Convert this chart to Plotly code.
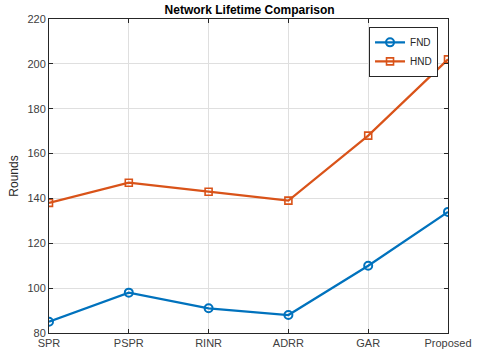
import plotly.graph_objects as go

# Network lifetime per protocol
protocols = ["SPR", "PSPR", "RINR", "ADRR", "GAR", "Proposed"]
fnd = [85, 98, 91, 88, 110, 134]
hnd = [138, 147, 143, 139, 168, 202]
yticks = [80, 100, 120, 140, 160, 180, 200, 220]

xpos = list(range(1, len(protocols) + 1))

fig = go.Figure()
fig.add_trace(go.Scatter(
    x=xpos, y=fnd, name="FND", mode="lines+markers",
    line=dict(color="#0072BD", width=2.2),
    marker=dict(symbol="circle-open", size=8, color="#0072BD", line=dict(width=2)),
))
fig.add_trace(go.Scatter(
    x=xpos, y=hnd, name="HND", mode="lines+markers",
    line=dict(color="#D95319", width=2.2),
    marker=dict(symbol="square-open", size=7, color="#D95319", line=dict(width=1.6)),
))

axis_common = dict(
    showline=True, linecolor="#262626", linewidth=1, mirror="ticks",
    ticks="inside", ticklen=4, tickcolor="#262626",
    showgrid=True, gridcolor="#DFDFDF", gridwidth=1,
    zeroline=False, tickfont=dict(size=11, color="#404040"),
    automargin=False,
)

fig.update_xaxes(
    range=[1, 6], tickvals=xpos, ticktext=protocols, **axis_common
)
fig.update_yaxes(
    range=[80, 220], tickvals=yticks,
    title=dict(text="Rounds", font=dict(size=12, color="#262626"), standoff=6),
    **axis_common
)

fig.update_layout(
    width=480, height=358,
    margin=dict(l=49, r=32, t=19, b=25),
    paper_bgcolor="white", plot_bgcolor="white",
    font=dict(family="Liberation Sans, Arial, sans-serif", color="#262626"),
    title=dict(text="<b>Network Lifetime Comparison</b>", x=0.52, xanchor="center",
               y=1 - 10 / 358, yanchor="middle", pad=dict(t=0, b=0),
               font=dict(size=12, color="black")),
    legend=dict(x=0.975, y=0.975, xanchor="right", yanchor="top",
                bgcolor="white", bordercolor="#262626", borderwidth=1,
                font=dict(size=10), tracegroupgap=0, itemwidth=30),
    showlegend=True,
)

# drop the default page margin so the figure sits at the window's corner
fig.write_html("out.html", config={"displayModeBar": False},
               post_script="document.body.style.margin='0';")
